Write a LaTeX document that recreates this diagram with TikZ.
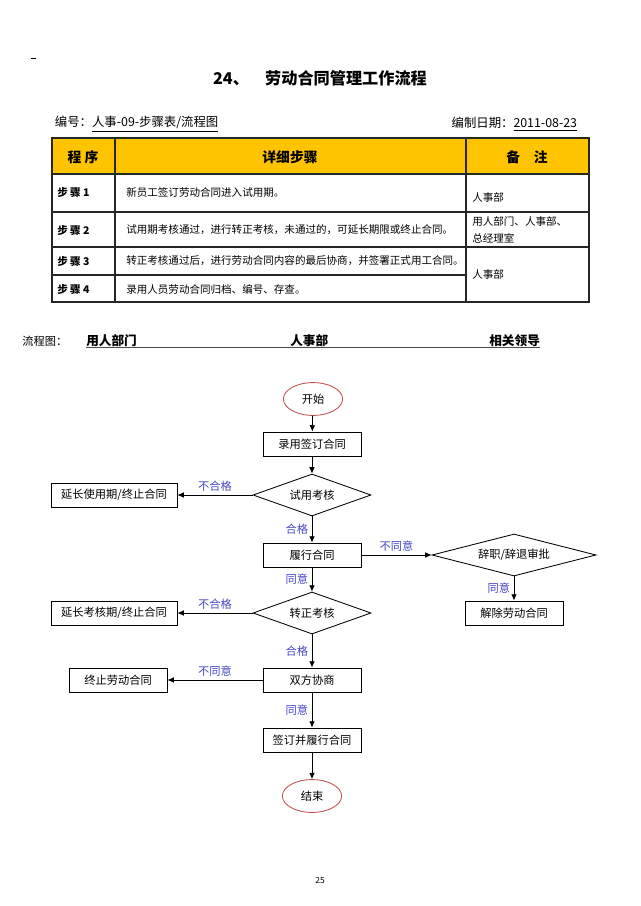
\documentclass[tikz,border=0pt]{standalone}
\usepackage{fontspec}
\setmainfont{Noto Sans CJK SC}
\usepackage{tikz}
\usetikzlibrary{positioning}
\usetikzlibrary{arrows.meta,shapes}
\usetikzlibrary{calc}

\definecolor{headgold}{RGB}{255,196,0}
\definecolor{labelblue}{RGB}{70,70,200}
\definecolor{ovalred}{RGB}{192,80,77}

\newcommand{\titlefont}{\fontsize{11.5}{14}\selectfont\bfseries}
\newcommand{\infofont}{\fontsize{8.8}{10.5}\selectfont}
\newcommand{\cellfont}{\fontsize{7.5}{9}\selectfont}
\newcommand{\flowfont}{\fontsize{8}{9.6}\selectfont}

\tikzstyle{tableline}=[line width=0.8pt,black!85]
\tikzstyle{headtext}=[font=\fontsize{9.8}{12}\selectfont\bfseries]
\tikzstyle{steplabel}=[anchor=west,inner sep=0pt,font=\fontsize{7.5}{9}\selectfont\bfseries]
\tikzstyle{celltext}=[anchor=west,inner sep=0pt,font=\cellfont]
\tikzstyle{dept}=[anchor=base west,inner sep=0pt,font=\fontsize{9}{11}\selectfont\bfseries]
\tikzstyle{procbox}=[rectangle,draw,line width=0.6pt,minimum width=2.45cm,minimum height=0.6cm,inner sep=0pt,font=\flowfont]
\tikzstyle{decision}=[diamond,draw,line width=0.6pt,aspect=2.8,minimum width=2.95cm,minimum height=1.05cm,inner sep=0pt,font=\flowfont]
\tikzstyle{terminal}=[ellipse,draw=ovalred,line width=0.6pt,minimum width=1.48cm,minimum height=0.82cm,inner sep=0pt,font=\flowfont]
\tikzstyle{edge}=[draw,line width=0.6pt,-{Latex[length=4.5pt,width=4pt]}]
\tikzstyle{weight}=[font=\flowfont,text=labelblue,inner sep=2.5pt]

\begin{document}
\begin{tikzpicture}[x=0.025cm, y=-0.025cm, auto, swap]
    \useasboundingbox (0,0) rectangle (640,906);

    \draw[line width=0.5pt] (31,58) -- (36,58);
    \node[font=\titlefont] (title) at (320,78) {24、\quad 劳动合同管理工作流程};
    \node[anchor=west,font=\infofont] (code) at (50,124) {编号：\underline{人事-09-步骤表/流程图}};
    \node[anchor=east,font=\infofont] (date) at (582,124) {编制日期：\underline{2011-08-23}};

    % step table
    \fill[headgold] (52,138) rectangle (589,174);
    \draw[tableline] (52,138) rectangle (589,302);
    \foreach \y in {174,212,247}
        \draw[tableline] (52,\y) -- (589,\y);
    \draw[tableline] (52,275) -- (466,275);
    \foreach \x in {115,466}
        \draw[tableline] (\x,138) -- (\x,302);

    \node[headtext] (hproc) at (83,157) {程\ 序};
    \node[headtext] (hdetail) at (290,157) {详细步骤};
    \node[headtext] (hnote) at (527,157) {备\quad 注};

    \foreach \y/\n/\txt in {192/1/新员工签订劳动合同进入试用期。,
                            230/2/试用期考核通过，进行转正考核，未通过的，可延长期限或终止合同。,
                            261/3/转正考核通过后，进行劳动合同内容的最后协商，并签署正式用工合同。,
                            289/4/录用人员劳动合同归档、编号、存查。}
    {
        \node[steplabel] (step\n) at (57,\y) {步\ 骤\ \n};
        \node[celltext] (detail\n) at (126,\y) {\txt};
    }
    \node[celltext] (note1) at (472,197) {人事部};
    \node[celltext] (note2a) at (472,221) {用人部门、人事部、};
    \node[celltext] (note2b) at (472,238) {总经理室};
    \node[celltext] (note3) at (472,274) {人事部};

    % departments
    \node[anchor=base west,inner sep=0pt,font=\fontsize{8}{10}\selectfont] (flowtitle) at (22,345) {流程图：};
    \node[dept] (dept1) at (86,345) {用人部门};
    \node[dept] (dept2) at (290,345) {人事部};
    \node[dept] (dept3) at (489,345) {相关领导};
    \draw[line width=0.7pt,black!70] ([yshift=-2pt]dept1.base west) -- ([yshift=-2pt]dept3.base east);

    % flow chart
    \node[terminal] (start) at (313,399) {开始};
    \node[terminal] (finish) at (312,796) {结束};
    \foreach \pos/\name/\txt in {{(312,444)/sign/录用签订合同}, {(312,555)/perform/履行合同},
                                 {(312,680)/negotiate/双方协商}, {(312,740)/signperform/签订并履行合同},
                                 {(514,613)/dissolve/解除劳动合同}, {(118,680)/terminate/终止劳动合同}}
        \node[procbox] (\name) at \pos {\txt};
    \node[procbox,minimum width=3.15cm] (extendtrial) at (114,495) {延长使用期/终止合同};
    \node[procbox,minimum width=3.15cm] (extendreg) at (114,613) {延长考核期/终止合同};

    \node[decision] (trial) at (312,495) {试用考核};
    \node[decision] (regular) at (312,613) {转正考核};
    \node[decision,aspect=4,minimum width=4.1cm] (resign) at (514,555) {辞职/辞退审批};

    \foreach \source/\dest/\weight in {start/sign/, sign/trial/, trial/extendtrial/不合格,
                                       trial/perform/合格, perform/regular/同意, resign/dissolve/同意,
                                       regular/extendreg/不合格, regular/negotiate/合格,
                                       negotiate/terminate/不同意, negotiate/signperform/同意,
                                       signperform/finish/}
        \path[edge] (\source) -- node[weight]{\weight} (\dest);
    \path[edge] (perform) -- node[weight,above]{不同意} (resign);

    \node[font=\fontsize{6}{7}\selectfont] (pagenum) at (320,880) {25};
\end{tikzpicture}
\end{document}
